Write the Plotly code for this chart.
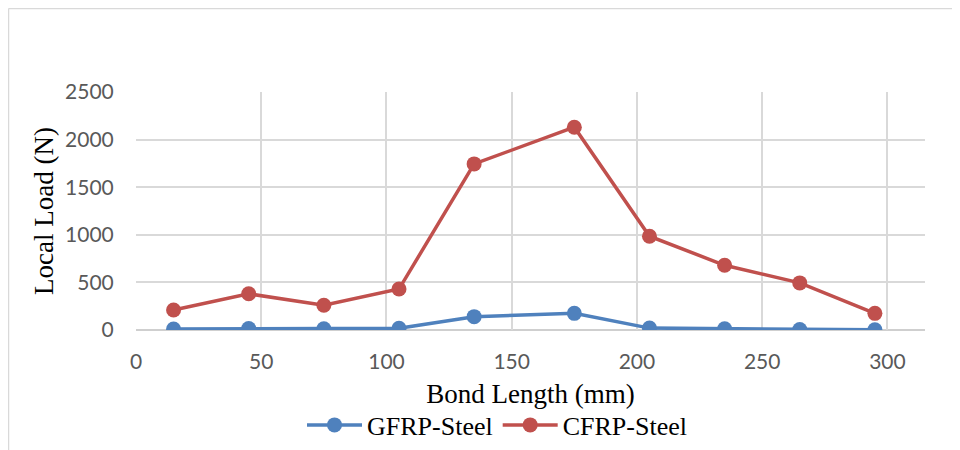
import plotly.graph_objects as go

bond_length = [15, 45, 75, 105, 135, 175, 205, 235, 265, 295]
gfrp_steel = [10, 15, 12, 18, 140, 175, 20, 12, 5, 2]
cfrp_steel = [210, 380, 260, 430, 1745, 2130, 985, 680, 495, 175]

x_ticks = [0, 50, 100, 150, 200, 250, 300]
y_ticks = [0, 500, 1000, 1500, 2000, 2500]

# page body adds an 8px margin, so the figure is 8px smaller
W, H = 952, 442
L, R, T, B = 128, 35, 84, 120
pw, ph = W - L - R, H - T - B

def px(xp):
    return (xp - L) / pw

def py(yp):
    return (H - B - yp) / ph

fig = go.Figure()
fig.add_trace(go.Scatter(
    x=bond_length, y=gfrp_steel, name="GFRP-Steel", mode="lines+markers",
    line=dict(color="#4f81bd", width=3.5),
    marker=dict(color="#4f81bd", size=15),
))
fig.add_trace(go.Scatter(
    x=bond_length, y=cfrp_steel, name="CFRP-Steel", mode="lines+markers",
    line=dict(color="#c0504d", width=3.5),
    marker=dict(color="#c0504d", size=15),
))

tick_font = dict(family="Lato, Carlito, sans-serif", size=21, color="#595959")
title_font = dict(family="Liberation Serif, Times New Roman, serif", size=27, color="#000000")

fig.update_layout(
    template="none",
    width=W, height=H,
    margin=dict(l=L, r=R, t=T, b=B, autoexpand=False),
    paper_bgcolor="white", plot_bgcolor="white",
    showlegend=True,
    legend=dict(
        orientation="h", x=px(489), y=py(417), xanchor="center", yanchor="middle",
        font=dict(family="Liberation Serif, Times New Roman, serif", size=26, color="#000000"),
        itemwidth=55, tracegroupgap=0, bgcolor="rgba(0,0,0,0)",
    ),
    xaxis=dict(
        range=[0, 315], tickvals=x_ticks, ticktext=[str(v) for v in x_ticks],
        showgrid=True, gridcolor="#d9d9d9", gridwidth=1.5,
        zeroline=False, showline=False, automargin=False,
        ticks="outside", ticklen=13, tickcolor="rgba(0,0,0,0)",
        tickfont=tick_font,
        title=dict(text="Bond Length (mm)", font=title_font, standoff=11),
    ),
    yaxis=dict(
        range=[0, 2500], tickvals=y_ticks, ticktext=[str(v) for v in y_ticks],
        showgrid=True, gridcolor="#d9d9d9", gridwidth=1.5,
        zeroline=False, showline=False, automargin=False,
        ticks="outside", ticklen=17, tickcolor="rgba(0,0,0,0)",
        tickfont=tick_font,
        title=dict(text="Local Load (N)", font=title_font, standoff=3),
    ),
    shapes=[
        dict(type="line", xref="paper", yref="paper", x0=0, x1=1, y0=0, y1=0,
             line=dict(color="#bfbfbf", width=1.5), layer="below"),
        dict(type="line", xref="paper", yref="paper", x0=px(0.5), x1=px(W), y0=py(0.5), y1=py(0.5),
             line=dict(color="#d9d9d9", width=1.5)),
        dict(type="line", xref="paper", yref="paper", x0=px(0.5), x1=px(0.5), y0=py(0.5), y1=py(H),
             line=dict(color="#d9d9d9", width=1.5)),
    ],
)

fig.write_html("out.html")
